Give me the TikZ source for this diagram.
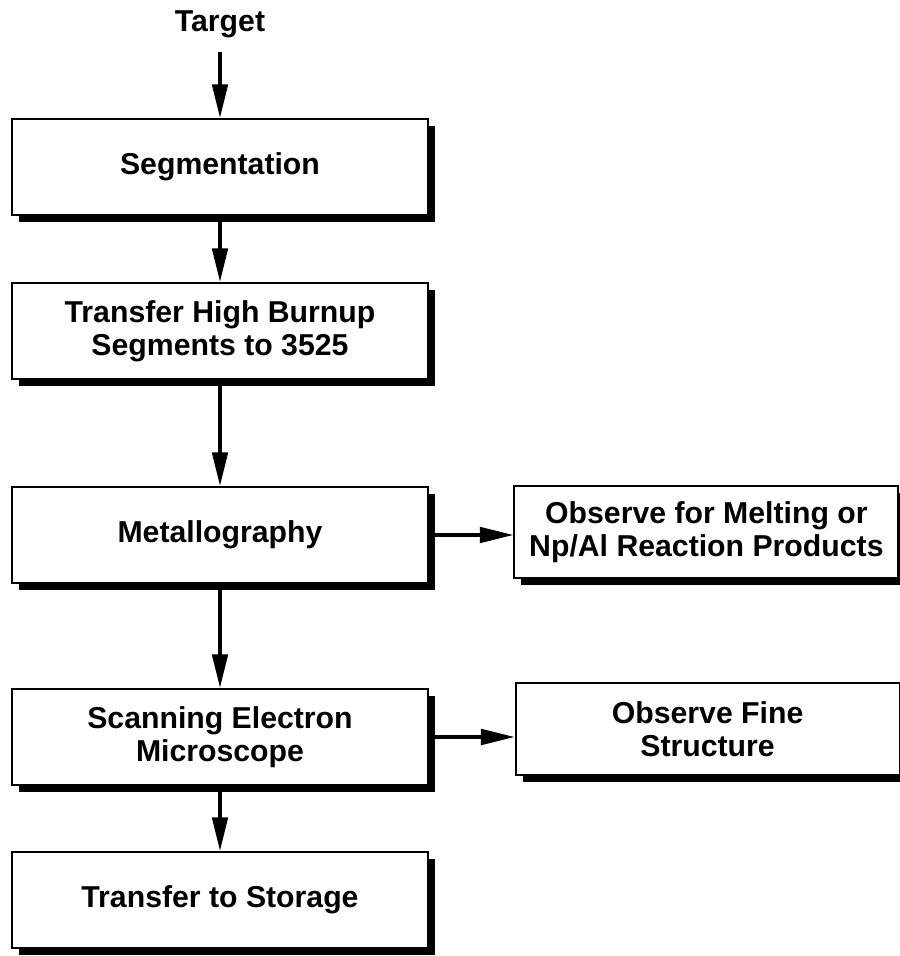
\documentclass[tikz,border=0pt]{standalone}
\usepackage{fontspec}
\setmainfont{Liberation Sans}
\usetikzlibrary{arrows.meta, positioning, shadows}

\begin{document}
\begin{tikzpicture}[
  stagebox/.style={draw, line width=1.3pt, fill=white, minimum width=10.4cm, minimum height=2.4cm,
    align=center, font=\fontsize{21.5}{23.5}\selectfont\bfseries,
    drop shadow={shadow xshift=5pt, shadow yshift=-5pt, opacity=1, fill=black}},
  sidebox/.style={stagebox, minimum width=9.6cm, minimum height=2.3cm},
  flow/.style={line width=2.6pt, -{Triangle[length=24pt, width=11pt]}}
]
  \useasboundingbox (0,0) rectangle (22.5,-23.9);

  % Main column
  \node[font=\fontsize{21.5}{23.5}\selectfont\bfseries, inner sep=0pt] (target) at (5.5,-0.6) {Target};
  \node[stagebox] (seg) at (5.5,-4.175) {Segmentation};
  \node[stagebox] (transfer) at (5.5,-8.275) {Transfer High Burnup\\Segments to 3525};
  \node[stagebox] (metal) at (5.5,-13.375) {Metallography};
  \node[stagebox] (sem) at (5.5,-18.425) {Scanning Electron\\Microscope};
  \node[stagebox] (storage) at (5.5,-22.5) {Transfer to Storage};

  % Side observations
  \node[sidebox] (melt) at (17.66,-13.3) {Observe for Melting or\\Np/Al Reaction Products};
  \node[sidebox] (fine) at (17.69,-18.225) {Observe Fine\\Structure};

  % Flow arrows
  \draw[flow] ([yshift=-0.35cm]target.south) -- (seg.north);
  \draw[flow] (seg) -- (transfer);
  \draw[flow] (transfer) -- (metal);
  \draw[flow] (metal) -- (sem);
  \draw[flow] (sem) -- (storage);
  \draw[flow] (metal.east) -- (metal.east -| melt.west);
  \draw[flow] (sem.east) -- (sem.east -| fine.west);
\end{tikzpicture}
\end{document}
